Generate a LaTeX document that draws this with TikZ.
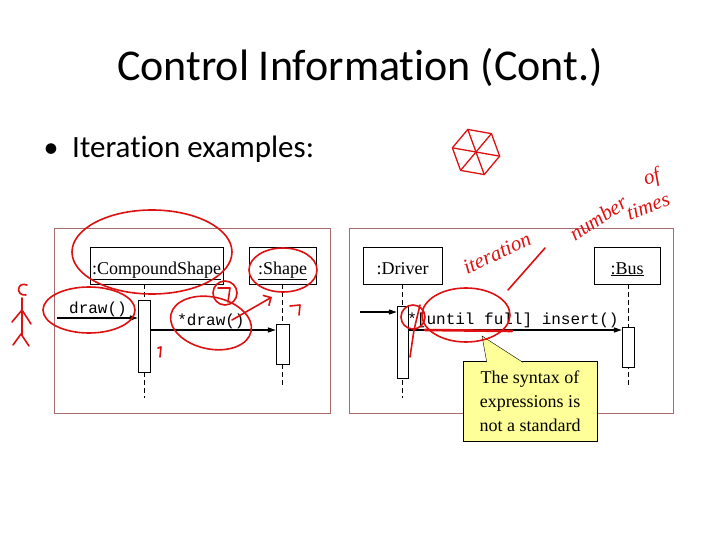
\documentclass[tikz,border=0pt]{standalone}
\usepackage{fontspec}
\setmainfont{Liberation Serif}
\setmonofont{Liberation Mono}
\newfontfamily\slidefont[Ligatures=NoCommon]{Carlito}
\usetikzlibrary{arrows.meta,positioning}
\definecolor{framebrown}{HTML}{A86A6A}
\definecolor{notefill}{HTML}{FFFF99}
\definecolor{inkred}{HTML}{DD1111}

\begin{document}
\begin{tikzpicture}[x=1pt, y=-1pt,
    objbox/.style={draw, thin, fill=white, minimum height=37pt, inner sep=0pt,
                   text height=17pt, text depth=0pt, font=\fontsize{18}{20}\selectfont},
    actbox/.style={draw, thin, fill=white, inner sep=0pt},
    lifeline/.style={thin, dash pattern=on 5pt off 3pt},
    msg/.style={-{Triangle[length=8pt,width=5pt]}, line width=1.2pt},
    msglabel/.style={anchor=base, inner sep=0pt, font=\ttfamily\fontsize{16}{18}\selectfont},
    framebox/.style={draw=framebrown, line width=0.8pt, minimum height=185pt, inner sep=0pt},
    notebox/.style={draw, thin, fill=notefill, minimum width=134pt, minimum height=80pt,
                    align=center, font=\fontsize{18}{24}\selectfont},
    ink/.style={draw=inkred, line width=1.6pt, line cap=round, line join=round},
    inktext/.style={text=inkred, inner sep=0pt, font=\itshape\fontsize{21}{24}\selectfont}
]
\useasboundingbox[fill=white] (0,0) rectangle (720,540);

% title and bullet
\node[anchor=base, font=\slidefont\fontsize{44}{48}\selectfont] (title) at (360,81) {Control Information (Cont.)};
\node[anchor=base west, inner sep=0pt, font=\slidefont\fontsize{31}{34}\selectfont] (bullet) at (72,158) {Iteration examples:};
\node[anchor=base, inner sep=0pt, font=\slidefont\fontsize{30}{34}\selectfont] (dot) at (51,158) {\textbullet};

% frames
\node[framebox, minimum width=276pt] (frameL) at (192,320.5) {};
\node[framebox, minimum width=324pt] (frameR) at (511,320.5) {};

% objects
\node[objbox, minimum width=133pt] (compound) at (156.5,265.5) {\underline{:CompoundShape}};
\node[objbox, minimum width=67pt] (shape) at (282.5,265.5) {\underline{:Shape}};
\node[objbox, minimum width=79pt] (driver) at (402.5,265.5) {:Driver};
\node[objbox, minimum width=66pt] (bus) at (627,265.5) {\underline{:Bus}};

% lifelines
\coordinate (endA) at (compound.south |- 0,398);
\coordinate (endB) at (shape.south |- 0,388);
\coordinate (endC) at (driver.south |- 0,398);
\coordinate (endD) at (bus.south |- 0,388);
\draw[lifeline] ([xshift=-12.5pt]compound.south) -- ([xshift=-12.5pt]endA);
\draw[lifeline] (shape.south) -- (endB);
\draw[lifeline] (driver.south) -- (endC);
\draw[lifeline] ([xshift=1pt]bus.south) -- ([xshift=1pt]endD);

% activations
\node[actbox, minimum width=12pt, minimum height=72pt] (actA) at (144,336) {};
\node[actbox, minimum width=13pt, minimum height=40pt] (actB) at (282.5,344) {};
\node[actbox, minimum width=11pt, minimum height=72pt] (actC) at (402.5,342) {};
\node[actbox, minimum width=12pt, minimum height=40pt] (actD) at (628,347) {};

% messages
\coordinate (inA) at (57,318);
\coordinate (inC) at (360,312);
\coordinate (rowAB) at (0,330);
\coordinate (rowCD) at (0,330);
\draw[msg] (inA) -- (inA -| actA.west);
\draw[msg] (actA.east |- rowAB) -- (actB.west |- rowAB);
\draw[msg] (inC) -- (inC -| actC.west);
\draw[msg] (actC.east |- rowCD) -- (actD.west |- rowCD);
\node[msglabel] (lblA) at (98,313) {draw()};
\node[msglabel] (lblB) at (211,325) {*draw()};
\node[msglabel] (lblC) at (513,324) {*[until full] insert()};

% note
\node[notebox] (note) at (530,401.5) {The syntax of\\expressions is\\not a standard};
\coordinate (tip) at (482,336);
\path (note.north west) ++(24,1) coordinate (pa) ++(36,0) coordinate (pb);
\path[fill=notefill, draw, thin] (pa) -- (tip) -- (pb);

% red pen marks
\draw[ink] (152,252) ellipse [x radius=80pt, y radius=42pt];
\draw[ink] (89,310) ellipse [x radius=46pt, y radius=23pt];
\draw[ink] (225,293) circle [radius=12pt];
\draw[ink] (218,288) -- (230,288) -- (228,302);
\draw[ink, rotate around={-12:(211,323)}] (211,323) ellipse [x radius=41pt, y radius=26pt];
\draw[ink] (283,270) ellipse [x radius=34pt, y radius=22pt];
\draw[ink, -{Straight Barb[length=6pt]}] (232,320) -- (272,297);
\draw[ink] (290,306) -- (300,305) -- (299,315);
\draw[ink] (158,348) -- (161,347) -- (160,357);
\draw[ink] (413,317) circle [radius=12pt];
\draw[ink] (466,315) ellipse [x radius=44pt, y radius=27pt];
\draw[ink, line width=2.6pt] (425,330) -- (512,331);
\draw[ink] (410,357) -- (414,330) -- (420,305);
\draw[ink] (508,290) -- (545,248);
\draw[ink] (27,285) .. controls (17,281) and (15,296) .. (26,295);
\draw[ink] (22,298) -- (22,335);
\draw[ink] (12,322) -- (22,310) -- (31,324);
\draw[ink] (13,345) -- (21,334) -- (29,346);
\foreach \ang in {10,70,130,190,250,310}
  \draw[ink, line width=1.3pt] (476,152) -- ++(\ang:24);
\draw[ink, line width=1.3pt] (476,152) ++(10:24) -- ++(130:24) -- ++(190:24) -- ++(250:24) -- ++(310:24) -- ++(10:24) -- cycle;
\node[inktext, rotate=25] (iter) at (497,253) {iteration};
\node[inktext, rotate=33] (numb) at (598,218) {number};
\node[inktext, rotate=20] (of) at (652,178) {of};
\node[inktext, rotate=20] (times) at (648,206) {times};
\end{tikzpicture}
\end{document}
